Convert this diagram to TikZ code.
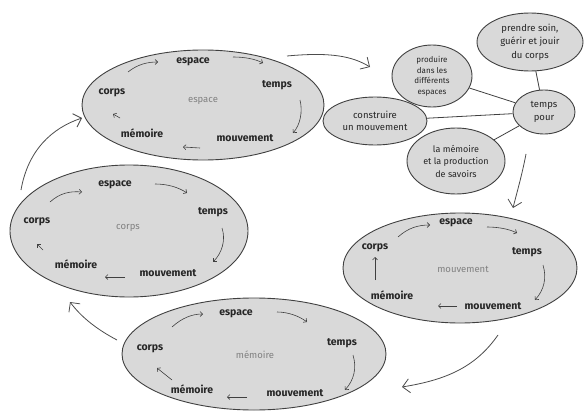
\documentclass[tikz,border=0pt]{standalone}
\usepackage{fontspec}
\setmainfont{Fira Sans}
\usetikzlibrary{arrows.meta,shapes.geometric}
\begin{document}
\begin{tikzpicture}[x=1pt,y=-1pt,
  cyc/.style={ellipse,draw=black!75,line width=0.9pt,fill=black!15,inner sep=0pt},
  lab/.style={font=\fontsize{10.5}{12}\selectfont\bfseries,text=black!85,inner sep=1pt},
  mid/.style={font=\fontsize{9.5}{11}\selectfont,text=black!50,inner sep=1pt},
  sarr/.style={draw=black!75,line width=0.6pt,-{Straight Barb[length=2.5pt,width=5pt]}},
  barr/.style={draw=black!70,line width=0.8pt,-{Straight Barb[length=7pt,width=14pt]}},
  cl/.style={ellipse,draw=black!75,line width=0.9pt,fill=black!15,inner sep=0pt,align=center,text=black!85},
  link/.style={draw=black!75,line width=0.8pt}]
\useasboundingbox (0,0) rectangle (584,412);

% cycle ellipses
\node[cyc,minimum width=242pt,minimum height=110pt] (top) at (203,105) {};
\node[cyc,minimum width=238pt,minimum height=132pt] (left) at (129,231) {};
\node[cyc,minimum width=234pt,minimum height=110pt] (right) at (460,268) {};
\node[cyc,minimum width=264pt,minimum height=112pt] (bottom) at (254,354) {};

% top ellipse
\node[lab] (tE) at (193,62) {espace};
\node[lab] (tT) at (277,85) {temps};
\node[lab] (tC) at (112,93) {corps};
\node[mid] (tX) at (203,101) {espace};
\node[lab] (tM) at (142,133) {mémoire};
\node[lab] (tV) at (245,138) {mouvement};
\draw[sarr] (128,72) .. controls (138,64) and (148,62) .. (158,62);
\draw[sarr] (233,57) .. controls (245,57) and (255,59) .. (263,63);
\draw[sarr] (300,100) .. controls (303,112) and (300,125) .. (293,133);
\draw[sarr] (200,148) -- (183,147);
\draw[sarr] (120,118) -- (113,114);

% left ellipse
\node[lab] (lE) at (115,185) {espace};
\node[lab] (lT) at (213,212) {temps};
\node[lab] (lC) at (37,222) {corps};
\node[mid] (lX) at (128,228) {corps};
\node[lab] (lM) at (76,264) {mémoire};
\node[lab] (lV) at (168,273) {mouvement};
\draw[sarr] (50,202) .. controls (60,193) and (70,191) .. (82,192);
\draw[sarr] (155,184) .. controls (167,184) and (178,187) .. (187,193);
\draw[sarr] (222,228) .. controls (226,240) and (222,253) .. (213,262);
\draw[sarr] (125,277) -- (105,277);
\draw[sarr] (43,250) -- (37,244);

% right ellipse
\node[lab] (rE) at (456,223) {espace};
\node[lab] (rT) at (527,252) {temps};
\node[lab] (rC) at (375,248) {corps};
\node[mid] (rX) at (463,269) {mouvement};
\node[lab] (rM) at (392,295) {mémoire};
\node[lab] (rV) at (493,306) {mouvement};
\draw[sarr] (398,237) .. controls (408,228) and (418,225) .. (430,225);
\draw[sarr] (487,227) .. controls (498,227) and (509,229) .. (517,233);
\draw[sarr] (543,265) .. controls (547,278) and (544,290) .. (535,300);
\draw[sarr] (457,306) -- (438,306);
\draw[sarr] (375,280) -- (375,257);

% bottom ellipse
\node[lab] (bE) at (236,314) {espace};
\node[lab] (bT) at (342,343) {temps};
\node[lab] (bC) at (150,349) {corps};
\node[mid] (bX) at (255,355) {mémoire};
\node[lab] (bM) at (192,389) {mémoire};
\node[lab] (bV) at (295,393) {mouvement};
\draw[sarr] (172,327) .. controls (182,318) and (192,314) .. (203,314);
\draw[sarr] (277,312) .. controls (288,312) and (299,316) .. (307,322);
\draw[sarr] (353,355) .. controls (357,368) and (354,380) .. (345,390);
\draw[sarr] (247,397) -- (227,397);
\draw[sarr] (172,380) -- (157,368);

% cluster
\node[cl,minimum width=106pt,minimum height=58pt,font=\fontsize{9.5}{13.5}\selectfont] (soin) at (530,42) {prendre soin,\\guérir et jouir\\du corps};
\node[cl,minimum width=80pt,minimum height=62pt,font=\fontsize{8}{10.5}\selectfont] (prod) at (432,76) {produire\\dans les\\différents\\espaces};
\node[cl,minimum width=104pt,minimum height=48pt,font=\fontsize{9.5}{12.5}\selectfont] (constr) at (375,121) {construire\\un mouvement};
\node[cl,minimum width=62pt,minimum height=44pt,font=\fontsize{9.5}{12.5}\selectfont] (tp) at (544,112) {temps\\pour};
\node[cl,minimum width=98pt,minimum height=66pt,font=\fontsize{9}{12.5}\selectfont] (memo) at (456,161) {la mémoire\\et la production\\de savoirs};
\draw[link] (prod) -- (tp);
\draw[link] (soin) -- (tp);
\draw[link] (constr) -- (tp);
\draw[link] (memo) -- (tp);

% big arrows
\coordinate (a1s) at (287,56); \coordinate (a1e) at (370,67);
\coordinate (a2s) at (526,154); \coordinate (a2e) at (513,208);
\coordinate (a3s) at (498,335); \coordinate (a3e) at (402,387);
\coordinate (a4s) at (117,340); \coordinate (a4e) at (70,302);
\coordinate (a5s) at (21,190); \coordinate (a5e) at (82,118);
\draw[barr] (a1s) .. controls (330,52) and (352,56) .. (a1e);
\draw[barr] (a2s) .. controls (522,175) and (517,192) .. (a2e);
\draw[barr] (a3s) .. controls (475,368) and (445,380) .. (a3e);
\draw[barr] (a4s) .. controls (98,330) and (82,318) .. (a4e);
\draw[barr] (a5s) .. controls (28,150) and (52,128) .. (a5e);
\end{tikzpicture}
\end{document}
